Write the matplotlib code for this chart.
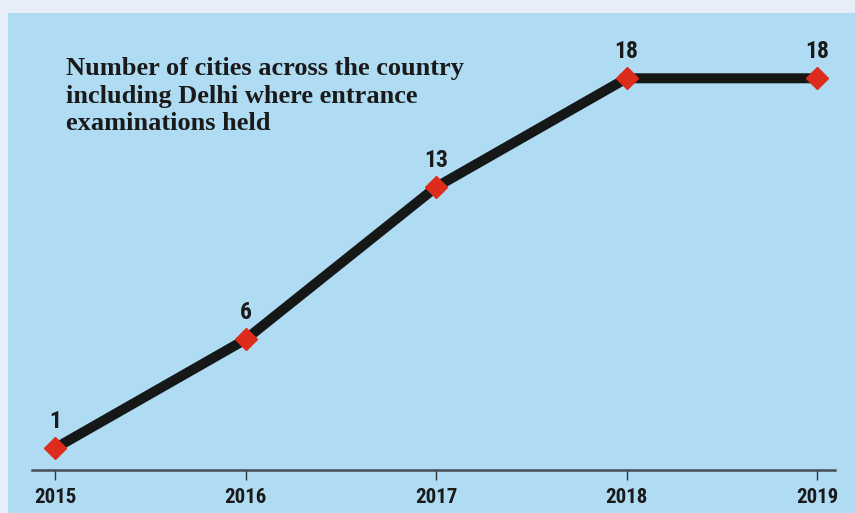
import matplotlib.pyplot as plt
from matplotlib.patches import Rectangle

# datos
anios = [2015, 2016, 2017, 2018, 2019]
ciudades = [1, 6, 13, 18, 18]
etiquetas = ["1", "6", "13", "18", "18"]
titulo = "Number of cities across the country\nincluding Delhi where entrance\nexaminations held"

fuente_num = ["Roboto Condensed", "DejaVu Sans"]

fig = plt.figure(figsize=(8.55, 5.13), dpi=100)
fig.patch.set_facecolor("#e8eef9")
fig.patches.append(Rectangle((8 / 855, 0), 1, 1 - 13 / 513, transform=fig.transFigure,
                             facecolor="#afdcf3", edgecolor="none", zorder=-5))

ax = fig.add_axes([32 / 855, 43 / 513, 803 / 855, 457 / 513])
ax.set_facecolor("none")
ax.set_zorder(2)

ax.plot(anios, ciudades, color="#161818", linewidth=7.2, solid_capstyle="butt", zorder=2)
ax.plot(anios, ciudades, linestyle="none", marker="D", markersize=11,
        color="#de2c1c", zorder=3)

for x, y, t in zip(anios, ciudades, etiquetas):
    ax.annotate(t, (x, y), xytext=(0, 14.5), textcoords="offset points", ha="center",
                va="baseline", fontsize=17, fontweight="bold", family=fuente_num,
                color="#1a1a1a")

ax.text(66 / 855, 1 - 57 / 513, titulo, transform=fig.transFigure, ha="left", va="top",
        fontsize=19, fontweight="bold", family=["Liberation Serif", "DejaVu Serif"],
        color="#1a1a1a", linespacing=1.25)

ax.set_xlim(2014.879, 2019.094)
ax.set_ylim(0, 21)
ax.set_xticks(anios)
ax.set_xticklabels([str(a) for a in anios], fontsize=15, fontweight="bold",
                   family=fuente_num, color="#1a1a1a")
ax.set_yticks([])
for lado in ["top", "right", "left"]:
    ax.spines[lado].set_visible(False)
ax.spines["bottom"].set_color("#454d55")
ax.spines["bottom"].set_linewidth(1.8)
ax.tick_params(axis="x", length=7.2, width=1, color="#333333", pad=6)

fig.savefig("out.png", dpi=100)
